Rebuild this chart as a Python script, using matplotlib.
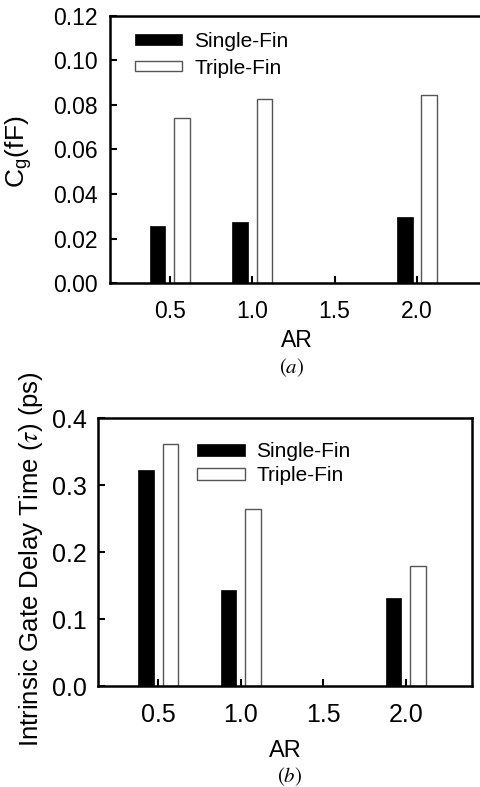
import matplotlib
matplotlib.use("Agg")
import matplotlib.pyplot as plt
from matplotlib.ticker import FixedLocator, FormatStrFormatter

plt.rcParams['font.family'] = ['Liberation Sans', 'DejaVu Sans']
plt.rcParams['mathtext.fontset'] = 'stix'

# Aspect ratios and measured quantities
ar = [0.5, 1.0, 2.0]
ar_ticks = [0.5, 1.0, 1.5, 2.0]
ar_labels = ["0.5", "1.0", "1.5", "2.0"]

cg_single = [0.0256, 0.0275, 0.0298]
cg_triple = [0.0743, 0.0826, 0.0846]

tau_single = [0.322, 0.143, 0.131]
tau_triple = [0.361, 0.264, 0.180]

series_names = ["Single-Fin", "Triple-Fin"]

fig = plt.figure(figsize=(4.81, 7.87), dpi=100)

bar_w = 0.094
off = 0.074


def draw_panel(ax, single, triple, ylim, yticks, yfmt, tick_fs, tick_pad_x, tick_pad_y):
    ax.bar([x - off for x in ar], single, width=bar_w, color='black',
           edgecolor='black', linewidth=0.5, label=series_names[0], zorder=2)
    ax.bar([x + off for x in ar], triple, width=bar_w, color='white',
           edgecolor='#555555', linewidth=1.0, label=series_names[1], zorder=2)
    ax.set_xlim(0.137, 2.40)
    ax.set_ylim(*ylim)
    ax.xaxis.set_major_locator(FixedLocator(ar_ticks))
    ax.set_xticklabels(ar_labels)
    ax.yaxis.set_major_locator(FixedLocator(yticks))
    ax.yaxis.set_major_formatter(FormatStrFormatter(yfmt))
    ax.tick_params(axis='x', direction='in', length=5, width=1.5,
                   labelsize=tick_fs, pad=tick_pad_x, top=False)
    ax.tick_params(axis='y', direction='in', length=5, width=1.5,
                   labelsize=tick_fs, pad=tick_pad_y, right=False)
    for s in ax.spines.values():
        s.set_linewidth(1.8)


# (a) gate capacitance
ax1 = fig.add_axes([0.2287, 0.6404, 1.004 - 0.2287, 0.9797 - 0.6404])
draw_panel(ax1, cg_single, cg_triple, (0, 0.12),
           [0.0, 0.02, 0.04, 0.06, 0.08, 0.10, 0.12], '%.2f', 16.5, 12, 9)
ax1.set_xlabel("AR", fontsize=16.5, va='center')
ax1.xaxis.set_label_coords(0.5, -0.215)
ax1.set_ylabel(r"C$_{\mathregular{g}}$(fF)", fontsize=19, va='center')
ax1.yaxis.set_label_coords(-0.244, 0.49)
ax1.legend(loc='upper left', bbox_to_anchor=(0.067, 0.94), frameon=False,
           fontsize=15, handlelength=2.26, handleheight=0.38,
           handletextpad=0.58, labelspacing=0.37, borderpad=0, borderaxespad=0)

# (b) intrinsic gate delay
ax2 = fig.add_axes([0.2044, 0.1283, 0.9807 - 0.2044, 0.4685 - 0.1283])
draw_panel(ax2, tau_single, tau_triple, (0, 0.4),
           [0.0, 0.1, 0.2, 0.3, 0.4], '%.1f', 18, 12, 8)
ax2.set_xlabel("AR", fontsize=17, va='center')
ax2.xaxis.set_label_coords(0.5, -0.241)
ax2.set_ylabel(r"Intrinsic Gate Delay Time ($\tau$) (ps)", fontsize=18.5, va='center')
ax2.yaxis.set_label_coords(-0.18, 0.474)
ax2.legend(loc='upper left', bbox_to_anchor=(0.264, 0.911), frameon=False,
           fontsize=15, handlelength=2.3, handleheight=0.48,
           handletextpad=0.55, labelspacing=0.25, borderpad=0, borderaxespad=0)

fig.text(0.607, 0.533, r"$(a)$", fontsize=15, ha='center', va='center')
fig.text(0.602, 0.0133, r"$(b)$", fontsize=15, ha='center', va='center')

fig.savefig("out.png", dpi=100)
